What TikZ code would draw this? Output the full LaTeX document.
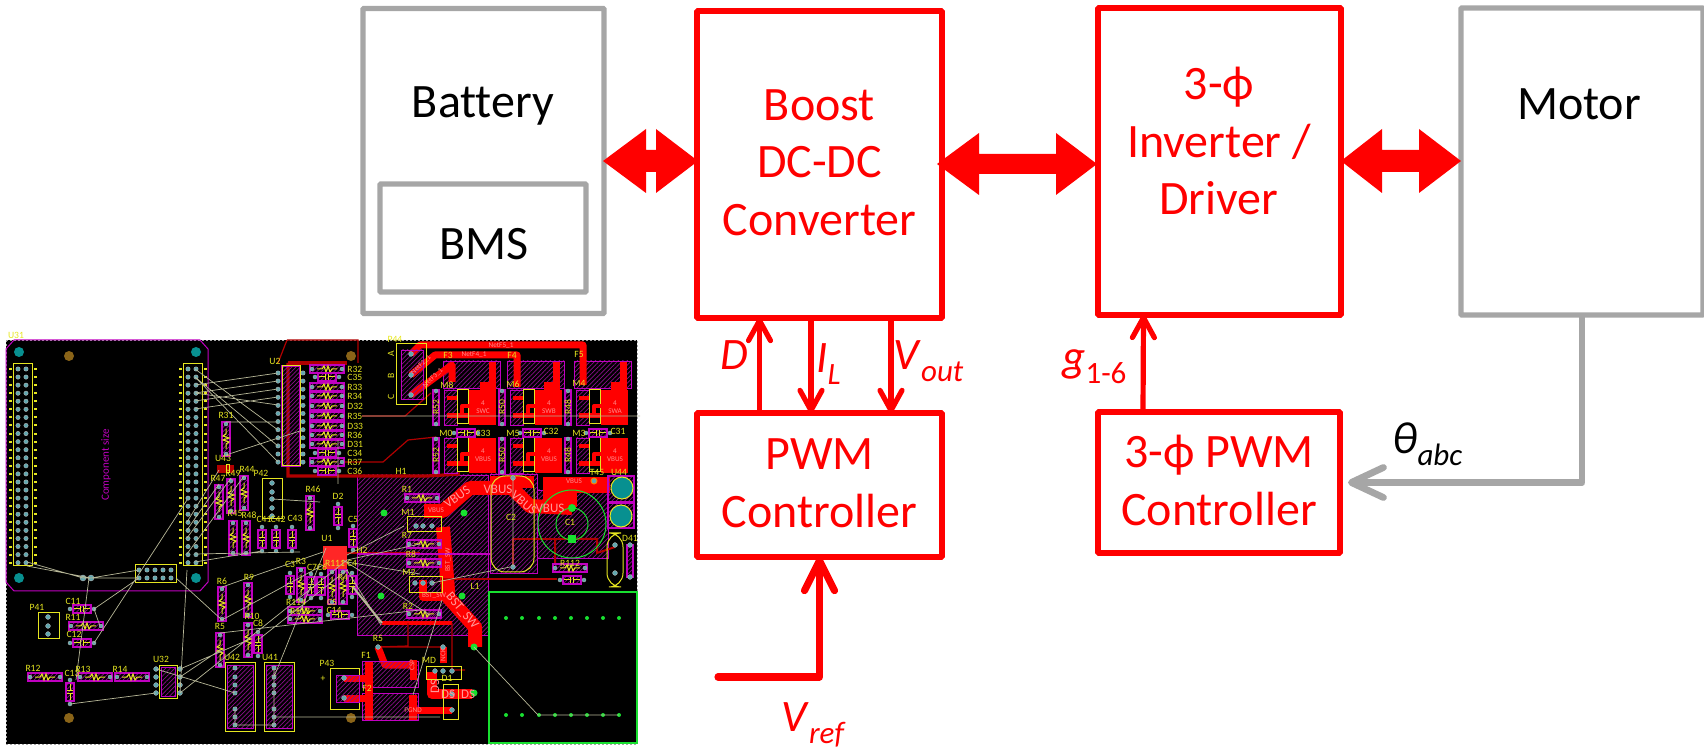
\documentclass[tikz,border=0pt]{standalone}
\usepackage{fontspec}
\setmainfont{Carlito}[Ligatures=NoCommon]
\usetikzlibrary{arrows.meta,patterns.meta}

\definecolor{boxgray}{HTML}{A6A6A6}
\definecolor{pcbmag}{HTML}{C000C0}
\definecolor{pcbhatch}{HTML}{8A108A}
\definecolor{pcbyel}{HTML}{E6E620}
\definecolor{pcbcyan}{HTML}{5FA8B0}
\definecolor{pcbrat}{HTML}{B8B898}
\definecolor{pcbdark}{HTML}{B00000}
\definecolor{pcbgreen}{HTML}{18E030}
\definecolor{pcbbrown}{HTML}{8A6418}
\definecolor{pcbteal}{HTML}{089090}

\tikzset{
    redbox/.style={draw=red,line width=2.8pt,inner sep=0pt,outer sep=0pt,text=red,align=center,rounded corners=0.4pt,text depth=2pt},
    graybox/.style={redbox,draw=boxgray,line width=2.6pt,text=black},
    boxtxt/.style={inner sep=0pt,align=center,font=\fontsize{24}{28.75}\selectfont},
    sigtxt/.style={inner sep=0pt,text=red,anchor=base west,font=\fontsize{22.5}{27}\selectfont},
    sigline/.style={draw=red,line width=2.6pt,-{Straight Barb[length=10pt,width=11pt,round,line width=2.6pt]}},
    dblarrow/.style={draw=none,fill=red},
    pcbarea/.style={draw=pcbmag,line width=.4pt,pattern={Lines[angle=45,distance=1.6pt,line width=.35pt]},pattern color=pcbhatch},
    pcbbody/.style={draw=pcbmag,line width=.7pt,pattern={Lines[angle=45,distance=1.5pt,line width=.35pt]},pattern color=pcbhatch},
    pcbyline/.style={draw=pcbyel,line width=.5pt},
    pcbpad/.style={fill=pcbcyan,draw=gray!60,line width=.2pt},
    pcbtrack/.style={draw=red,line width=3.5pt,line join=round},
    pcbthin/.style={draw=pcbdark,line width=.6pt},
    pcbrats/.style={draw=pcbrat,line width=.35pt},
    pcblab/.style={inner sep=0pt,text=pcbyel,font=\fontsize{4.8}{4.8}\selectfont},
    pcbnet/.style={inner sep=0pt,text=red!45!white,font=\fontsize{3.6}{3.6}\selectfont},
    pcbnetbig/.style={inner sep=0pt,text=red!40!white,font=\fontsize{6.5}{6.5}\selectfont},
}

% subscript for the signal names
\newcommand{\sigsub}[1]{\raisebox{-6pt}{\fontsize{15.5}{15.5}\selectfont #1}}
% resistor and capacitor footprints, horizontal and vertical
\newcommand{\resH}[2]{
    \fill[pcbbody] (#1-17,#2-4) rectangle (#1+17,#2+4);
    \draw[pcbyline] (#1-10,#2)--(#1-5,#2)--(#1-3,#2-3)--(#1-1,#2+3)--(#1+1,#2-3)--(#1+3,#2+3)--(#1+5,#2)--(#1+10,#2);
    \fill[pcbpad] (#1-15,#2) circle (2) (#1+15,#2) circle (2);
}
\newcommand{\resV}[2]{
    \fill[pcbbody] (#1-4,#2-17) rectangle (#1+4,#2+17);
    \draw[pcbyline] (#1,#2-10)--(#1,#2-5)--(#1-3,#2-3)--(#1+3,#2-1)--(#1-3,#2+1)--(#1+3,#2+3)--(#1,#2+5)--(#1,#2+10);
    \fill[pcbpad] (#1,#2-15) circle (2) (#1,#2+15) circle (2);
}
\newcommand{\capH}[2]{
    \fill[pcbbody] (#1-9,#2-4) rectangle (#1+9,#2+4);
    \draw[pcbyline] (#1-8,#2)--(#1-1.5,#2) (#1-1.5,#2-3)--(#1-1.5,#2+3) (#1+1.5,#2-3)--(#1+1.5,#2+3) (#1+1.5,#2)--(#1+8,#2);
    \fill[pcbpad] (#1-12,#2) circle (2) (#1+12,#2) circle (2);
}
\newcommand{\capV}[2]{
    \fill[pcbbody] (#1-4,#2-9) rectangle (#1+4,#2+9);
    \draw[pcbyline] (#1,#2-8)--(#1,#2-1.5) (#1-3,#2-1.5)--(#1+3,#2-1.5) (#1-3,#2+1.5)--(#1+3,#2+1.5) (#1,#2+1.5)--(#1,#2+8);
    \fill[pcbpad] (#1,#2-12) circle (2) (#1,#2+12) circle (2);
}
% one switch cell of the bridge on the board
\newcommand{\fetcell}[3]{
    \fill[pcbbody] (#1+113,#2+70) rectangle (#1+119,#2+105);
    \fill[pcbpad] (#1+116,#2+71) circle (2) (#1+116,#2+104) circle (2);
    \draw[pcbarea] (#1+124,#2+70) rectangle (#1+137,#2+105);
    \fill[red] (#1+127,#2+76) rectangle (#1+137,#2+80);
    \fill[red] (#1+127,#2+93) rectangle (#1+149,#2+98);
    \draw[pcbyline] (#1+137,#2+70) rectangle (#1+148,#2+104);
    \draw[pcbtrack,line width=2pt] (#1+142,#2+95)--(#1+142,#2+86)--(#1+152,#2+86);
    \fill[red] (#1+149,#2+70) rectangle (#1+176,#2+105);
    \node[pcbnet] (fetfour#1#2) at (#1+163,#2+83) {4};
    \node[pcbnet] (fetnet#1#2) at (#1+163,#2+91) {#3};
}

\begin{document}
\begin{tikzpicture}[x=0.5pt,y=-0.5pt]
    \useasboundingbox (0,0) rectangle (1704,748);
    % the board
    \fill[black] (6,340) rectangle (637,744);
    \draw[gray!70,line width=.4pt,dash pattern=on 1pt off 1pt] (6,340) rectangle (637,744);
    \draw[pcbmag,line width=.5pt] (6,349)--(14,340)--(200,340)--(208,349)--(208,582)--(200,591)--(14,591)--(6,582)--cycle;
    \fill[pcbteal] (19,352) circle (5) (196,352) circle (5) (19,578) circle (5) (196,578) circle (5) (621,516) circle (10);
    \fill[pcbbrown] (69,356) circle (5) (69,718) circle (5) (351,356) circle (5) (351,718) circle (5);
    \node[inner sep=0pt,text=pcbmag,rotate=90,font=\fontsize{5.5}{5.5}\selectfont] (capename) at (106,465) {Component size};
    % copper and big areas
    \draw[pcbarea] (357,475) rectangle (488,635);
    \draw[pcbarea] (490,474) rectangle (537,573);
    \draw[pcbarea] (537,490) rectangle (608,558);
    \foreach \x in {443,507,574}{
        \draw[pcbarea] (\x,361) rectangle (\x+57,388);
        \fill[red] (\x+46,362) rectangle (\x+53,395);
        \fill[red] (\x+37,382) rectangle (\x+53,395);
    }
    \draw[pcbthin,line width=1.6pt] (288,363)--(288,476)--(427,476)--(460,474);
    \draw[pcbthin,line width=1.6pt] (288,363)--(347,363);
    \draw[pcbthin] (278,363)--(287,340) (287,340)--(358,340)--(358,363);
    \draw[pcbthin] (345,462)--(383,462)--(408,440)--(436,437);
    \draw[pcbthin] (362,416)--(405,416)--(431,393);
    \foreach \x/\t in {320/SWC,386/SWB,452/SWA}{
        \fetcell{\x}{320}{\t}
        \fetcell{\x}{368}{VBUS}
    }
    \foreach \x in {473,539,605}{
        \capH{\x-7}{433}
    }
    \draw[pcbtrack] (411,354)--(420,345)--(583,345)--(583,385);
    \draw[pcbtrack] (411,375)--(435,355)--(517,355)--(517,387);
    \draw[pcbtrack] (411,395)--(452,365)--(452,382);
    % power tracks
    \draw[pcbtrack,line width=7pt] (424,511)--(443,511)--(470,488)--(512,488)--(530,506)--(572,508);
    \fill[red] (543,477) rectangle (577,507);
    \fill[red] (543,477) rectangle (610,493);
    \fill[red] (490,476) rectangle (534,488);
    \draw[pcbtrack,line width=7pt] (443,527)--(448,590)--(448,597)--(475,627)--(475,647);
    \draw[pcbtrack,line width=4pt] (423,580)--(423,597)--(445,597);
    \draw[pcbtrack,line width=2pt] (382,623)--(452,623);
    \draw[pcbthin] (408,623)--(408,646)--(378,647) (378,647)--(443,647) (452,623)--(452,670)--(465,670);
    \draw[pcbtrack] (378,647)--(385,665)--(413,665);
    \draw[pcbtrack] (443,647)--(443,663);
    \draw[pcbarea] (362,661) rectangle (418,687);
    \draw[pcbarea] (362,693) rectangle (418,720);
    \draw[pcbtrack,line width=4pt] (369,662)--(369,720);
    \draw[pcbtrack,line width=4pt] (413,695)--(413,720);
    \draw[pcbtrack] (413,710)--(452,710);
    \draw[pcbtrack] (344,678)--(368,678);
    \draw[pcbtrack] (344,698)--(368,698);
    \draw[pcbtrack] (413,660)--(413,680);
    \draw[pcbtrack,line width=5pt] (432,672)--(432,694)--(472,694);
    \draw[pcbthin,line width=1pt] (572,539)--(513,539)--(513,567);
    \draw[pcbthin,line width=1pt] (555,539)--(555,565) (572,539)--(597,539)--(597,553)--(615,547);
    \draw[pcbthin,line width=1pt] (441,579)--(557,579);
    \draw[pcbthin] (347,553)--(420,553);
    \draw[pcbmag,line width=.7pt] (357,554)--(490,554);
    % capacitors and connectors on the right
    \draw[pcbyel,line width=.5pt,rounded corners=7pt] (491,476) rectangle (534,572);
    \draw[pcbgreen,line width=.5pt] (572,524) circle (34) (572,524) circle (16);
    \draw[pcbyline,rounded corners=7pt] (607,533) rectangle (623,587);
    \fill[pcbbody] (608,476) rectangle (634,502);
    \fill[pcbbody] (608,503) rectangle (634,528);
    \draw[pcbyline,fill=pcbteal] (622,488) circle (11) (621,516) circle (11);
    \fill[pcbbody] (627,545) rectangle (633,577);
    \draw[orange,fill=pcbcyan,line width=.5pt] (594,481) circle (3);
    \fill[pcbgreen] (572,508) circle (4);
    \fill[pcbgreen] (568,535) rectangle (576,543);
    \foreach \x/\y in {384/513,464/513,381/596,462/596,474/647,474/693}{\fill[pcbgreen] (\x,\y) circle (3.5);}
    \draw[pcbgreen,line width=.6pt] (489,592) rectangle (637,743);
    \foreach \x in {506,522,539,555,571,587,603,619}{
        \fill[pcbgreen] (\x,618) circle (2) (\x,715) circle (2);
    }
    % headers
    \foreach \x in {13,183}{
        \draw[pcbyline] (\x,364) rectangle (\x+19,566);
        \foreach \r in {0,...,24}{
            \fill[pcbpad] (\x+5,369+8.07*\r) circle (2.2) (\x+13,369+8.07*\r) circle (2.2);
            \fill[pcbyel] (\x-4,368+8.07*\r) rectangle (\x-1,370+8.07*\r);
            \fill[pcbyel] (\x+21,368+8.07*\r) rectangle (\x+24,370+8.07*\r);
        }
    }
    \draw[pcbyline] (135,565) rectangle (176,583);
    \foreach \x in {139,147,155,163,171}{\fill[pcbpad] (\x,570) circle (2.2) (\x,578) circle (2.2);}
    \fill[pcbpad] (83,578) circle (3) (91,578) circle (3);
    % ICs and connectors
    \fill[pcbbody] (282,366) rectangle (300,466);
    \draw[pcbyline] (282,366) rectangle (300,466);
    \foreach \r in {0,...,11}{\fill[pcbpad] (278,373+8.1*\r) circle (2.2) (303,373+8.1*\r) circle (2.2);}
    \foreach \y in {369,387,396,416,435,462}{\resH{327}{\y}}
    \foreach \y in {377,453,471}{\capH{327}{\y}}
    \foreach \y in {406,426,444}{\resH{327}{\y}}
    \foreach \x/\y in {226/439,219/502,231/496,244/493,233/538,246/538,310/513,222/604,248/600,220/650,248/640,301/585,332/587,343/587}{\resV{\x}{\y}}
    \foreach \x/\y in {262/539,276/539,292/539,338/516,353/538,258/644,290/585,311/586,321/586,352/585,70/692}{\capV{\x}{\y}}
    \foreach \x/\y in {86/626,45/677,95/677,132/677,422/498,424/544,424/563,424/614,305/611,305/619,570/568}{\resH{\x}{\y}}
    \foreach \x/\y in {82/609,82/643,340/615,572/580}{\capH{\x}{\y}}
    \fill[red!70!black] (217,465) rectangle (234,473);
    \fill[red!80!pink] (323,546) rectangle (347,569);
    \draw[pcbyline] (226,465) rectangle (229,473);
    \foreach \x/\y/\w/\h in {38/613/21/26,262/479/20/40,396/344/30/61,330/668/29/41,159/665/18/33,225/662/30/69,264/662/30/69,407/517/34/15,409/577/33/16,426/666/35/13,443/684/15/35}{
        \draw[pcbyline] (\x,\y) rectangle (\x+\w,\y+\h);
    }
    \foreach \x/\y/\w/\h in {401/350/22/49,336/675/23/27,161/667/14/29,227/665/26/63,266/665/26/63}{
        \draw[pcbarea] (\x,\y) rectangle (\x+\w,\y+\h);
    }
    \foreach \x/\y in {48/617,48/626,48/634,272/483,272/492,272/499,272/508,272/516,411/354,411/375,411/395,344/678,344/698,156/669,156/677,156/685,156/693,180/669,180/677,180/685,180/693,416/526,423/526,432/526,415/583,423/583,432/583,435/671,443/671,452/671,452/694,452/710,378/647,443/647,513/478,513/567,630/545,630/577,615/545,615/573}{
        \fill[pcbpad] (\x,\y) circle (2.4);
    }
    \foreach \x in {235,274}{
        \foreach \y in {668,677,685,693,709,717,725}{\fill[pcbpad] (\x,\y) circle (2.2);}
    }
    % rats nest
    \draw[pcbrats] (27,562)--(83,578) (27,566)--(91,578) (91,578)--(139,570) (83,578)--(139,578) (94,609)--(139,578) (94,609)--(100,626) (94,643)--(187,500)
        (195,369)--(278,430) (195,377)--(278,462) (195,385)--(278,373) (195,393)--(278,381) (195,401)--(278,389) (195,409)--(278,397) (195,377)--(278,446) (195,393)--(278,405)
        (226,422)--(278,422) (226,455)--(303,430) (187,522)--(219,470) (187,530)--(219,484) (187,538)--(231,478) (187,554)--(244,476) (195,554)--(300,552) (195,562)--(262,551)
        (176,578)--(222,620) (187,570)--(180,693) (89,578)--(76,680) (70,704)--(156,693) (180,677)--(220,650) (180,693)--(347,560) (156,669)--(235,693) (180,669)--(248,640)
        (222,587)--(323,552) (222,620)--(323,565) (220,633)--(420,610) (258,640)--(347,570) (274,677)--(326,548) (235,725)--(274,725) (235,709)--(235,725) (274,668)--(274,725)
        (274,717)--(440,717) (347,555)--(404,526) (347,560)--(420,544) (347,562)--(420,574) (343,560)--(430,615) (347,570)--(381,625) (432,583)--(510,567)
        (474,647)--(538,715)--(619,715) (442,600)--(413,695) (338,484)--(338,440) (513,478)--(513,567) (362,416)--(640,416) (320,502)--(272,499);
    \draw[pcbrats,line width=1pt] (353,587)--(382,623);
    % labels on the board
    \foreach \x/\y/\n in {16/335/U31,226/415/R31,223/458/U43,218/478/R47,233/473/R49,247/469/R44,261/473/P42,313/489/R46,235/513/R45,249/515/R48,264/519/C41,278/519/C42,295/518/C43,
        275/361/U2,37/607/P41,73/601/C11,73/617/R11,74/634/C12,33/668/R12,72/673/C13,83/669/R13,120/669/R14,161/659/U32,232/657/U42,270/657/U41,220/626/R5,222/581/R6,249/577/R9,252/616/R10,258/623/C8,290/564/C3,301/561/R3,312/567/C7,322/567/C6,296/602/R114,300/611/R113,
        327/538/U1,335/563/R111,352/563/C4,343/577/R4,332/602/C5,334/610/C14,338/496/D2,353/519/C5,362/550/H2,401/471/H1,395/339/P44,407/489/R1,408/512/M1,407/535/R7,411/554/R8,409/572/M2,408/606/R2,475/586/L1,
        448/355/F3,512/355/F4,579/354/F5,447/385/M8,513/384/M6,579/383/M4,446/433/M0,513/433/M5,579/433/M3,483/433/C33,551/431/C32,618/431/C31,511/517/C2,570/522/C1,597/472/T45,619/472/U44,630/538/D41,570/563/R112,
        366/655/F1,367/688/F2,327/663/P43,323/679/+,429/660/MD,447/678/D1,378/638/R5}{
        \node[pcblab] (pcb\n) at (\x,\y) {\n};
    }
    \foreach \y/\n in {369/R32,377/C35,387/R33,396/R34,406/D32,416/R35,426/D33,435/R36,444/D31,453/C34,462/R37,471/C36}{
        \node[pcblab,anchor=west] (pcb\n) at (347,\y) {\n};
    }
    \foreach \y/\n in {354/A,376/B,397/C}{\node[pcblab,rotate=90] (side\n) at (391,\y) {\n};}
    \foreach \x/\n in {436/R52,502/R50,568/R48}{
        \node[pcblab,rotate=90] (gatea\n) at (\x,407) {\n};
        \node[pcblab,rotate=90] (gateb\n) at (\x,455) {\n};
    }
    \foreach \x/\y/\r/\n [count=\c] in {501/346/0/NetF5\_1,474/355/0/NetF4\_1,421/365/45/NetF2\_1,433/378/45/NetF3\_1,436/510/0/VBUS,574/481/0/VBUS,448/560/90/BST\_SW,434/596/0/BST\_SW,412/665/90/CSP,413/710/0/PGND,443/655/90/NCK}{
        \node[pcbnet,rotate=\r] (net\c) at (\x,\y) {\n};
    }
    \foreach \x/\y/\r/\n [count=\c] in {457/497/35/VBUS,498/489/0/VBUS,524/503/-40/VBUS,550/508/0/VBUS,462/611/-50/BST\_SW,435/687/90/DS,448/694/0/DS,468/694/0/DS}{
        \node[pcbnetbig,rotate=\r] (netb\c) at (\x,\y) {\n};
    }
    % the block diagram
    \node[graybox,minimum width=120.5pt,minimum height=152.5pt] (battery) at (483.5,161) {};
    \node[graybox,minimum width=103pt,minimum height=54pt] (bms) at (483,238) {};
    \node[redbox,minimum width=122.5pt,minimum height=153.5pt,font=\fontsize{24}{28.75}\selectfont] (boost) at (819.5,164.5) {Boost\\DC-DC\\Converter};
    \node[redbox,minimum width=121.5pt,minimum height=153.5pt] (inverter) at (1219.5,161.5) {};
    \node[graybox,minimum width=121pt,minimum height=153.5pt] (motor) at (1582,161.5) {};
    \node[redbox,minimum width=122.5pt,minimum height=72pt,font=\fontsize{24}{28.75}\selectfont] (pwm) at (819.5,485) {PWM\\Controller};
    \node[redbox,minimum width=121pt,minimum height=70.5pt,font=\fontsize{24}{28.75}\selectfont] (phipwm) at (1219,482.5) {3-\symbol{"03D5} PWM\\Controller};
    \node[boxtxt] (batterytxt) at (483,106) {Battery};
    \node[boxtxt] (bmstxt) at (484,244) {BMS};
    \node[boxtxt,text=red] (invertertxt) at (1219,141) {3-\symbol{"03D5}\\Inverter /\\Driver};
    \node[boxtxt] (motortxt) at (1579,104) {Motor};
    % double arrows between the blocks
    \fill[dblarrow] (603,161)--(646,129)--(646,150)--(656,150)--(656,129)--(698,161)--(656,193)--(656,172)--(646,172)--(646,193)--cycle;
    \fill[dblarrow] (937,164)--(979,133)--(979,154)--(1056,154)--(1056,133)--(1097,164)--(1056,195)--(1056,174)--(979,174)--(979,195)--cycle;
    \fill[dblarrow] (1341,161)--(1382,129)--(1382,150)--(1419,150)--(1419,129)--(1461,161)--(1419,193)--(1419,172)--(1382,172)--(1382,193)--cycle;
    % signals
    \draw[sigline] ([xshift=-30pt]pwm.north)--([xshift=-30pt]boost.south);
    \draw[sigline] ([xshift=-4.25pt]boost.south)--([xshift=-4.25pt]pwm.north);
    \draw[sigline] ([xshift=35.75pt]boost.south)--([xshift=35.75pt]pwm.north);
    \draw[sigline] ([xshift=-38pt]phipwm.north)--([xshift=-38pt]inverter.south);
    \coordinate (vrefstart) at (718,677);
    \draw[draw=red,line width=3.6pt,line cap=round,line join=round,-{Straight Barb[length=15pt,width=15pt,round,line width=3.6pt]}] (vrefstart)-|(pwm.south);
    \draw[draw=boxgray,line width=3.4pt,line join=round,shorten >=4pt,-{Straight Barb[length=16pt,width=15pt,round,line width=3.4pt]}] (motor.south)|-(phipwm.east);
    \node[sigtxt] (dtxt) at (720,370) {\textit{D}};
    \node[sigtxt] (iltxt) at (816,373) {\textit{I}\sigsub{\textit{L}}};
    \node[sigtxt] (vouttxt) at (893,370) {\textit{V}\sigsub{\textit{out}}};
    \node[sigtxt] (gtxt) at (1062,372) {\textit{g}\sigsub{1-6}};
    \node[sigtxt] (vreftxt) at (781,731) {\textit{V}\sigsub{\textit{ref}}};
    \node[sigtxt,text=black] (thetatxt) at (1392,454) {\textit{θ}\sigsub{\textit{abc}}};
\end{tikzpicture}
\end{document}
